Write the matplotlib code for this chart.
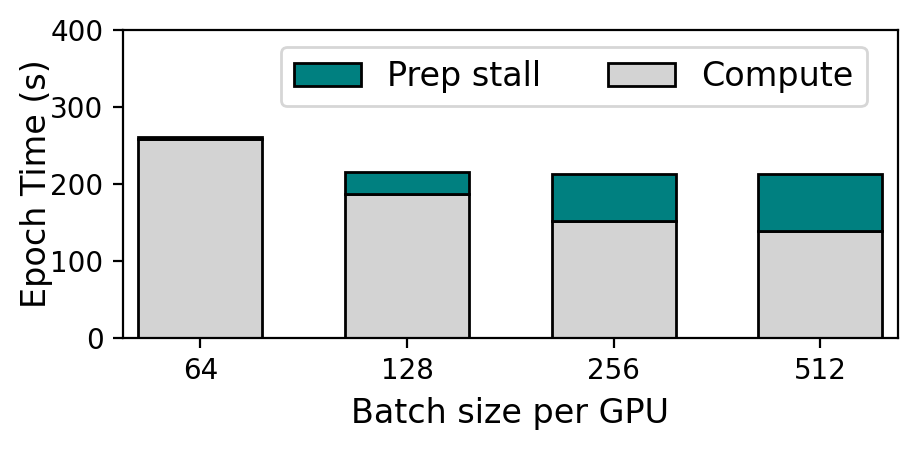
import matplotlib
matplotlib.use("Agg")
import matplotlib.pyplot as plt
import numpy as np

# batch size per GPU and epoch time breakdown (s)
batch_sizes = ['64', '128', '256', '512']
compute = [258, 187, 152, 139]
prep_stall = [3, 29, 61, 74]

x = np.arange(len(batch_sizes))
width = 0.6

fig, ax = plt.subplots(figsize=(4.585, 2.25), dpi=200)
ax.bar(x, compute, width, color='lightgray', edgecolor='black', linewidth=1.0, label='Compute', zorder=2)
ax.bar(x, prep_stall, width, bottom=compute, color='teal', edgecolor='black', linewidth=1.0, label='Prep stall', zorder=2)

ax.set_xticks(x)
ax.set_xticklabels(batch_sizes, fontsize=10)
ax.tick_params(axis='y', labelsize=10)
ax.set_xlim(-0.375, 3.375)
ax.set_ylim(0, 400)
ax.set_yticks([0, 100, 200, 300, 400])
ax.set_xlabel('Batch size per GPU', fontsize=12)
ax.set_ylabel('Epoch Time (s)', fontsize=12, labelpad=-1)

handles, labels = ax.get_legend_handles_labels()
ax.legend(handles[::-1], labels[::-1], ncol=2, loc='upper right',
          bbox_to_anchor=(0.982, 1.0), fontsize=12)

plt.subplots_adjust(left=0.134, right=0.979, top=0.933, bottom=0.249)
fig.savefig('out.png', dpi=200)
